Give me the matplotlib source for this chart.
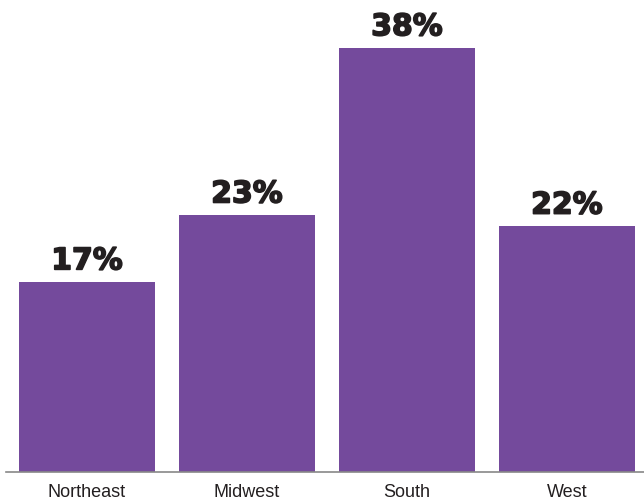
import matplotlib
matplotlib.use('Agg')
from matplotlib import pyplot as plt
from matplotlib import patheffects as pe

regions = ['Northeast', 'Midwest', 'South', 'West']
shares = [17, 23, 38, 22]

bar_color = '#744a9c'

fig = plt.figure(figsize=(6.44, 5.04), dpi=100)
ax = fig.add_axes([6 / 644, 1 - 471.5 / 504, 638 / 644, 471.5 / 504])

x = list(range(len(regions)))
bars = ax.bar(x, shares, width=0.85, color=bar_color, zorder=2)

for xi, v in zip(x, shares):
    ax.text(xi, v + 0.6, f'{v}%', ha='center', va='bottom',
            fontsize=21.5, fontweight='bold', family='DejaVu Sans', color='#231f20',
            path_effects=[pe.withStroke(linewidth=1.2, foreground='#231f20')])

ax.set_xlim(-0.50625, 3.48125)
ax.set_ylim(0, 471.5 / (423.5 / 38))
ax.set_xticks(x)
ax.set_xticklabels(regions, fontsize=13, family='Liberation Sans', color='#231f20')
ax.tick_params(axis='x', length=0, pad=9)
ax.set_yticks([])

for side in ['top', 'right', 'left']:
    ax.spines[side].set_visible(False)
ax.spines['bottom'].set_color('#888888')
ax.spines['bottom'].set_linewidth(1.2)
ax.spines['bottom'].set_zorder(3)

fig.savefig('out.png', dpi=100)
